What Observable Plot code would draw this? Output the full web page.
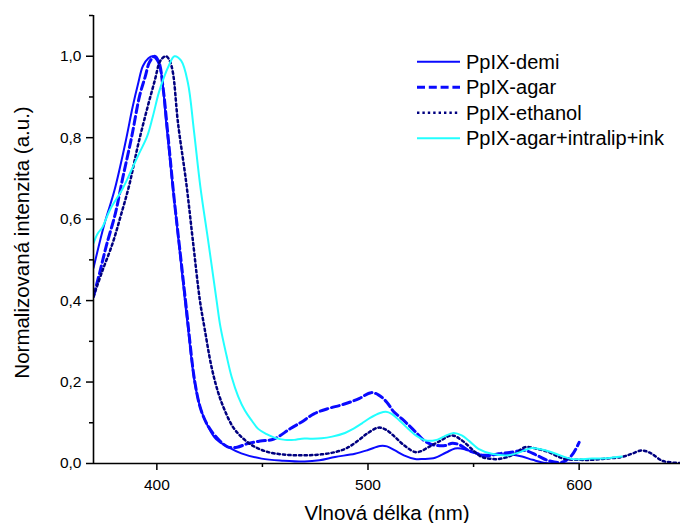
<!DOCTYPE html>
<html><head><meta charset="utf-8">
<script src="https://cdn.jsdelivr.net/npm/d3@7"></script>
<script src="https://cdn.jsdelivr.net/npm/@observablehq/plot@0.6"></script>
<style>
html,body{margin:0;padding:0;background:#fff;}
#chart{width:680px;height:523px;}
</style></head><body><div id="chart"></div>
<script>
// Wavelength (nm) and normalized intensity per series
const demiX = [370, 375, 380, 385, 388.6, 391, 393.4, 396, 398, 400, 402, 404.4, 407.4, 410, 413.3, 415, 418, 421, 424.4, 428, 433.8, 440, 449.6, 460, 470, 477, 484.4, 493.8, 500, 505.7, 509, 512.8, 517, 522.3, 526, 531.8, 537, 541.2, 544, 547.6, 553, 560, 568, 573, 578, 584, 590, 600];
const demiY = [0.48, 0.585, 0.672, 0.785, 0.877, 0.93, 0.976, 0.995, 1.0, 0.99, 0.96, 0.837, 0.685, 0.56, 0.40, 0.32, 0.196, 0.13, 0.089, 0.06, 0.04, 0.025, 0.012, 0.007, 0.005, 0.008, 0.016, 0.024, 0.033, 0.043, 0.042, 0.032, 0.02, 0.011, 0.011, 0.014, 0.027, 0.037, 0.037, 0.032, 0.022, 0.022, 0.022, 0.017, 0.009, 0.001, 0, 0];

const agarX = [370, 373, 376, 380.4, 383.8, 388, 391.8, 394.5, 396.5, 399, 401, 403, 405, 408, 411, 414, 418, 421, 424.5, 429, 433.5, 438, 443, 449, 455.4, 463.3, 468.6, 474.4, 481.2, 487, 491.7, 496, 501.5, 505.1, 509, 512.2, 516, 520.1, 523, 526.4, 530, 533, 536.5, 540, 543.7, 547.6, 551.6, 555.5, 561.8, 567, 574, 580, 585.5, 591.8, 596.5, 600];
const agarY = [0.41, 0.47, 0.533, 0.615, 0.70, 0.80, 0.902, 0.95, 0.985, 1.0, 0.985, 0.92, 0.82, 0.66, 0.52, 0.38, 0.20, 0.13, 0.09, 0.06, 0.041, 0.04, 0.049, 0.055, 0.06, 0.086, 0.102, 0.122, 0.135, 0.143, 0.151, 0.16, 0.174, 0.168, 0.15, 0.127, 0.11, 0.09, 0.075, 0.057, 0.047, 0.044, 0.044, 0.05, 0.045, 0.032, 0.025, 0.018, 0.024, 0.027, 0.032, 0.02, 0.007, 0.003, 0.02, 0.052];

const ethX = [370, 374, 379, 383, 387, 391, 395.7, 399, 401.3, 403, 404.4, 406, 407.6, 410, 413.9, 417, 420.4, 422.6, 425.9, 429, 432.2, 436, 440.1, 446, 452.8, 460, 468.6, 477, 484.4, 490, 495.5, 500, 504.9, 508.5, 512.8, 517, 522.3, 525, 528.6, 534, 539.7, 544.4, 550.7, 553.9, 557, 561.8, 566, 569.7, 574.4, 580, 585.5, 590, 593.4, 600, 606, 613, 620.2, 625, 629.7, 634, 639.2, 643, 648];
const ethY = [0.41, 0.47, 0.54, 0.61, 0.685, 0.78, 0.877, 0.94, 0.985, 0.997, 1.0, 0.99, 0.96, 0.837, 0.69, 0.55, 0.40, 0.332, 0.237, 0.175, 0.13, 0.09, 0.065, 0.042, 0.028, 0.022, 0.02, 0.022, 0.028, 0.038, 0.057, 0.075, 0.088, 0.083, 0.065, 0.045, 0.028, 0.03, 0.04, 0.055, 0.069, 0.057, 0.028, 0.016, 0.012, 0.011, 0.016, 0.024, 0.04, 0.036, 0.028, 0.017, 0.011, 0.009, 0.009, 0.012, 0.016, 0.024, 0.032, 0.025, 0.007, 0.003, 0.001];

const inkX = [370, 372, 374, 378, 383.5, 387.5, 391.4, 395.4, 398, 400.9, 403.5, 405.6, 408.3, 411.5, 414.7, 417.5, 420.6, 424.5, 428.3, 430.1, 433, 435.4, 438.5, 441.7, 445, 448, 452, 456, 460.7, 465, 468.6, 473, 478, 483, 489.1, 493, 497, 501, 505.7, 508.5, 511.2, 515, 519.1, 523, 527, 531.8, 536, 540.5, 544.4, 548, 552.3, 558.6, 566.5, 572, 577.6, 585.5, 591, 596.5, 606, 613, 620.2];
const inkY = [0.541, 0.565, 0.578, 0.625, 0.672, 0.715, 0.759, 0.803, 0.85, 0.91, 0.95, 0.976, 1.0, 0.989, 0.935, 0.82, 0.68, 0.54, 0.40, 0.336, 0.265, 0.213, 0.165, 0.13, 0.105, 0.085, 0.072, 0.063, 0.058, 0.058, 0.061, 0.061, 0.062, 0.066, 0.075, 0.085, 0.098, 0.112, 0.124, 0.127, 0.122, 0.105, 0.085, 0.068, 0.057, 0.057, 0.066, 0.075, 0.069, 0.055, 0.036, 0.024, 0.02, 0.028, 0.038, 0.03, 0.02, 0.011, 0.012, 0.013, 0.017];

const seriesNames = ["PpIX-demi", "PpIX-agar", "PpIX-ethanol", "PpIX-agar+intralip+ink"];
const majorX = [400, 500, 600];
const minorX = [450, 550];
const majorY = [0, 0.2, 0.4, 0.6, 0.8, 1.0];
const minorY = [0.1, 0.3, 0.5, 0.7, 0.9, 1.1];
const xTitle = "Vlnová délka (nm)";
const yTitle = "Normalizovaná intenzita (a.u.)";

const styles = [
  {stroke: "#0a0aff", width: 2, dash: "none"},
  {stroke: "#0a0aff", width: 3, dash: "8 3.8"},
  {stroke: "#000080", width: 2.5, dash: "2.4 3"},
  {stroke: "#22ffff", width: 2, dash: "none"}
];
const xs = [demiX, agarX, ethX, inkX];
const ys = [demiY, agarY, ethY, inkY];

const yFmt = d => d3.format(".1f")(d).replace(".", ",");
const font = "'Liberation Sans', Arial, sans-serif";

const lineMarks = seriesNames.map((name, k) =>
  Plot.line(xs[k].map((x, i) => ({x, y: ys[k][i], name})), {
    x: "x", y: "y", stroke: styles[k].stroke, strokeWidth: styles[k].width,
    strokeDasharray: styles[k].dash, curve: "catmull-rom", clip: true
  })
);

const plot = Plot.plot({
  width: 680, height: 523,
  marginLeft: 93, marginRight: 0, marginTop: 15, marginBottom: 60,
  style: {fontFamily: font, background: "#fff", color: "#000", overflow: "visible"},
  x: {domain: [370, 648]},
  y: {domain: [0, 1.1]},
  marks: [
    ...lineMarks,
    Plot.axisX({ticks: majorX, tickSize: 7, tickPadding: 8, fontSize: 15.5, label: null, tickFormat: d => String(d), strokeWidth: 1.5}),
    Plot.axisX({ticks: minorX, tickSize: 4, tickFormat: () => "", label: null, strokeWidth: 1.5}),
    Plot.axisY({ticks: majorY, tickSize: 7, tickPadding: 5, fontSize: 15.5, tickFormat: yFmt, label: null, strokeWidth: 1.5}),
    Plot.axisY({ticks: minorY, tickSize: 4, tickFormat: () => "", label: null, strokeWidth: 1.5}),
    Plot.ruleY([0], {strokeWidth: 1.6}),
    Plot.ruleX([370], {strokeWidth: 1.6}),
    Plot.text([xTitle], {text: d => d, frameAnchor: "bottom", dy: 50, fontSize: 20.5, lineAnchor: "middle", textAnchor: "middle"}),
    Plot.text([yTitle], {text: d => d, frameAnchor: "left", dx: -71, dy: 3, rotate: -90, fontSize: 20.5, lineAnchor: "middle", textAnchor: "middle"})
  ]
});

const svg = d3.select(plot);
// make sure each series path carries its dash pattern
svg.selectAll("g[aria-label='line']").each(function(_, k) {
  if (k < styles.length) d3.select(this).selectAll("path").attr("stroke-dasharray", styles[k].dash);
});

// Legend inside the plot area (top right)
const lg = svg.append("g").attr("font-family", font).attr("font-size", 20).attr("text-anchor", "start");
seriesNames.forEach((name, k) => {
  const yy = 61.7 + k * 25.5;
  lg.append("line").attr("x1", 417).attr("x2", 460).attr("y1", yy).attr("y2", yy)
    .attr("stroke", styles[k].stroke).attr("stroke-width", styles[k].width)
    .attr("stroke-dasharray", styles[k].dash);
  lg.append("text").attr("x", 466).attr("y", yy + 6.8).attr("fill", "#000").attr("text-anchor", "start").text(name);
});

document.getElementById("chart").appendChild(plot);
</script>
</body></html>
